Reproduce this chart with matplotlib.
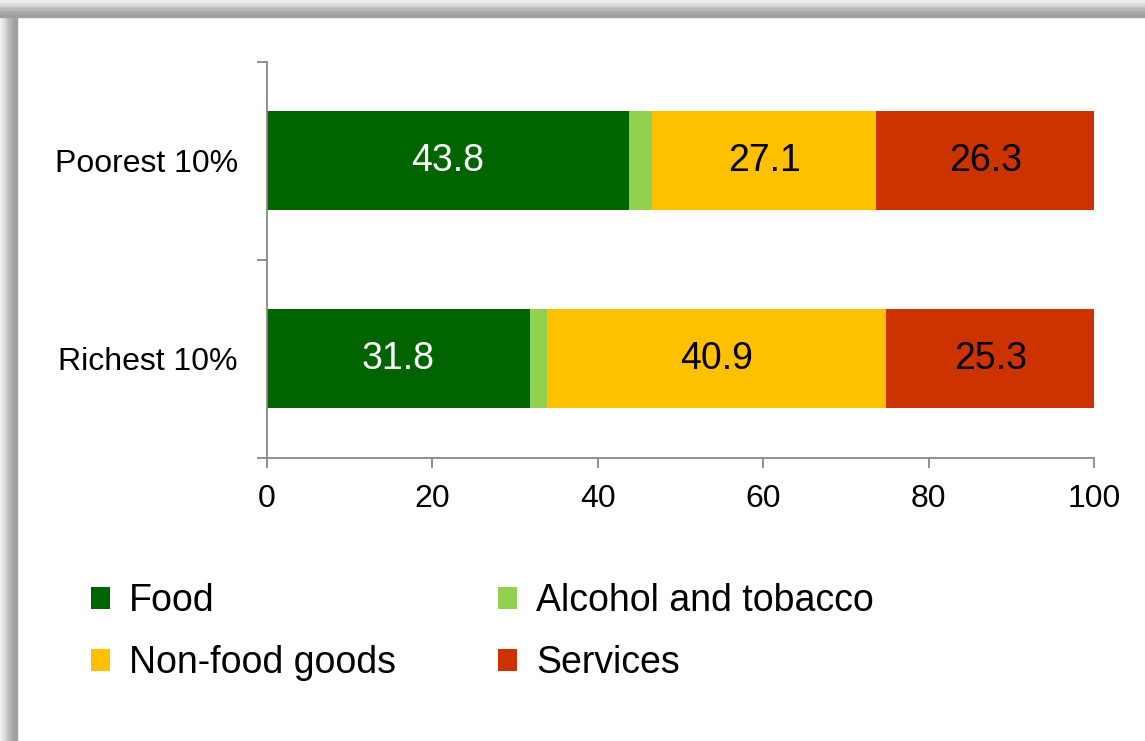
import matplotlib
matplotlib.use("Agg")
import matplotlib.pyplot as plt
from matplotlib.patches import Rectangle

plt.rcParams["font.family"] = ["Liberation Sans", "DejaVu Sans"]

# data
groups = ["Poorest 10%", "Richest 10%"]
categories = ["Food", "Alcohol and tobacco", "Non-food goods", "Services"]
food = [43.8, 31.8]
alcohol = [2.8, 2.1]
nonfood = [27.1, 40.9]
services = [26.3, 25.3]
colors = ["#006400", "#92D050", "#FFC000", "#CC3300"]
label_colors = ["white", None, "black", "black"]

series = [food, alcohol, nonfood, services]

fig = plt.figure(figsize=(11.45, 7.41), dpi=100)

# grey shaded frame on top and left edges
shades = ["#eeeeee", "#dddddd", "#cccccc", "#bbbbbb", "#aaaaaa", "#a0a0a0"]
W, H = 1145, 741
for i, c in enumerate(shades):
    off = 2.8 * i
    fig.patches.append(Rectangle((0, 1 - (off + 2.8) / H), 1, 2.8 / H,
                                 transform=fig.transFigure, color=c, zorder=0))
    fig.patches.append(Rectangle((off / W, 0), 2.8 / W, 1 - off / H,
                                 transform=fig.transFigure, color=c, zorder=0))

ax = fig.add_axes([267 / W, 1 - 458 / H, (1094 - 267) / W, (458 - 62) / H])

ypos = list(range(len(groups)))
left = [0.0] * len(groups)
for vals, col, lc, name in zip(series, colors, label_colors, categories):
    bars = ax.barh(ypos, vals, left=left, height=0.5, color=col, label=name)
    if lc is not None:
        for b, v in zip(bars, vals):
            ax.text(b.get_x() + b.get_width() / 2, b.get_y() + b.get_height() / 2,
                    f"{v:.1f}", ha="center", va="center", color=lc, fontsize=27)
    left = [l + v for l, v in zip(left, vals)]

ax.set_xlim(0, 100)
ax.set_ylim(1.5, -0.5)
ax.set_xticks(range(0, 101, 20))
ax.set_yticks(ypos)
ax.set_yticklabels(groups)
ax.set_yticks([-0.5, 0.5, 1.5], minor=True)
ax.tick_params(axis="y", which="major", length=0, pad=21, labelsize=23)
ax.tick_params(axis="y", which="minor", length=7, color="#888888", width=1.3)
ax.tick_params(axis="x", length=7, color="#888888", width=1.3, labelsize=23, pad=12)
for s in ["top", "right"]:
    ax.spines[s].set_visible(False)
for s in ["left", "bottom"]:
    ax.spines[s].set_color("#888888")
    ax.spines[s].set_linewidth(1.3)

handles, labels = ax.get_legend_handles_labels()
order = [0, 2, 1, 3]
fig.legend([handles[i] for i in order], [labels[i] for i in order],
           loc="upper left", bbox_to_anchor=(91 / W, 1 - 583 / H), ncol=2,
           frameon=False, fontsize=27, handlelength=0.51, handleheight=0.51,
           handletextpad=0.51, columnspacing=2.72, labelspacing=0.7,
           borderpad=0, borderaxespad=0)

fig.savefig("out.png", dpi=100)
